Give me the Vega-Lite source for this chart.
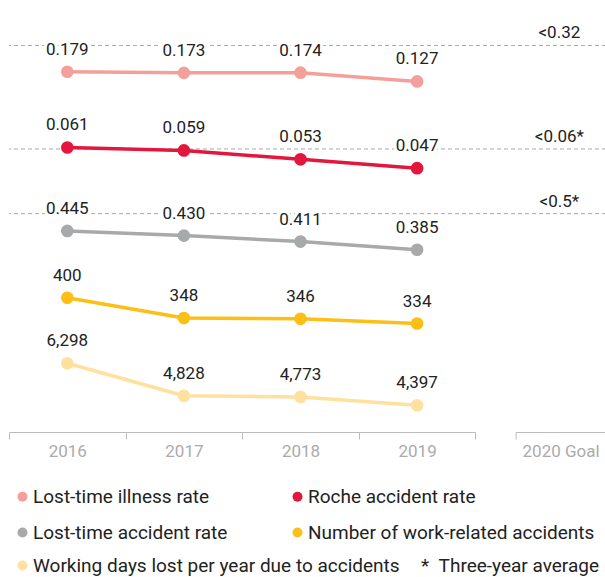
{
  "$schema": "https://vega.github.io/schema/vega-lite/v6.json",
  "background": "white",
  "padding": {"left": 8, "top": 0, "right": 0, "bottom": 0},
  "autosize": {"type": "pad"},
  "bounds": "flush",
  "spacing": 0,
  "config": {"view": {"stroke": null}, "font": "Roboto"},
  "datasets": {
    "kpi": [
      {"series": "Lost-time illness rate", "year": 2016, "value": 0.179},
      {"series": "Lost-time illness rate", "year": 2017, "value": 0.173},
      {"series": "Lost-time illness rate", "year": 2018, "value": 0.174},
      {"series": "Lost-time illness rate", "year": 2019, "value": 0.127},
      {"series": "Roche accident rate", "year": 2016, "value": 0.061},
      {"series": "Roche accident rate", "year": 2017, "value": 0.059},
      {"series": "Roche accident rate", "year": 2018, "value": 0.053},
      {"series": "Roche accident rate", "year": 2019, "value": 0.047},
      {"series": "Lost-time accident rate", "year": 2016, "value": 0.445},
      {"series": "Lost-time accident rate", "year": 2017, "value": 0.430},
      {"series": "Lost-time accident rate", "year": 2018, "value": 0.411},
      {"series": "Lost-time accident rate", "year": 2019, "value": 0.385},
      {"series": "Number of work-related accidents", "year": 2016, "value": 400},
      {"series": "Number of work-related accidents", "year": 2017, "value": 348},
      {"series": "Number of work-related accidents", "year": 2018, "value": 346},
      {"series": "Number of work-related accidents", "year": 2019, "value": 334},
      {"series": "Working days lost per year due to accidents", "year": 2016, "value": 6298},
      {"series": "Working days lost per year due to accidents", "year": 2017, "value": 4828},
      {"series": "Working days lost per year due to accidents", "year": 2018, "value": 4773},
      {"series": "Working days lost per year due to accidents", "year": 2019, "value": 4397}
    ],
    "goals": [
      {"series": "Lost-time illness rate", "goal": 0.32, "label": "<0.32"},
      {"series": "Roche accident rate", "goal": 0.06, "label": "<0.06*"},
      {"series": "Lost-time accident rate", "goal": 0.5, "label": "<0.5*"}
    ]
  },
  "vconcat": [
    {
      "width": 597,
      "height": 431,
      "data": {"name": "kpi"},
      "resolve": {"scale": {"y": "independent"}},
      "layer": [
        {
          "layer": [
            {"data": {"name": "goals"}, "transform": [{"filter": "datum.series === 'Lost-time illness rate'"}],
             "mark": {"type": "rule", "color": "#AAAAAA", "strokeWidth": 1, "strokeDash": [4, 3]},
             "encoding": {"y": {"field": "goal", "type": "quantitative", "scale": {"domain": [-1.7497, 0.5642], "zero": false, "nice": false}, "axis": null}}},
            {"data": {"name": "goals"}, "transform": [{"filter": "datum.series === 'Lost-time illness rate'"}],
             "mark": {"type": "text", "font": "Roboto", "fontSize": 17, "color": "#222222", "dy": -12, "align": "center", "baseline": "middle"},
             "encoding": {"x": {"datum": 2020.22, "type": "quantitative", "scale": {"domain": [2015.5, 2020.62], "zero": false, "nice": false}, "axis": null},
                          "y": {"field": "goal", "type": "quantitative", "scale": {"domain": [-1.7497, 0.5642], "zero": false, "nice": false}, "axis": null},
                          "text": {"field": "label"}}},
            {"transform": [{"filter": "datum.series === 'Lost-time illness rate'"}],
             "mark": {"type": "line", "color": "#F4A09A", "strokeWidth": 3.5},
             "encoding": {"x": {"field": "year", "type": "quantitative", "scale": {"domain": [2015.5, 2020.62], "zero": false, "nice": false}, "axis": null},
                          "y": {"field": "value", "type": "quantitative", "scale": {"domain": [-1.7497, 0.5642], "zero": false, "nice": false}, "axis": null}}},
            {"transform": [{"filter": "datum.series === 'Lost-time illness rate'"}],
             "mark": {"type": "point", "filled": true, "size": 160, "opacity": 1},
             "encoding": {"x": {"field": "year", "type": "quantitative", "scale": {"domain": [2015.5, 2020.62], "zero": false, "nice": false}, "axis": null},
                          "y": {"field": "value", "type": "quantitative", "scale": {"domain": [-1.7497, 0.5642], "zero": false, "nice": false}, "axis": null},
                          "color": {"field": "series", "type": "nominal",
                                    "scale": {"domain": ["Lost-time illness rate", "Lost-time accident rate", "Roche accident rate", "Number of work-related accidents"], "range": ["#F4A09A", "#A7A9AA", "#E3173E", "#FCBF16"]},
                                    "legend": {"title": null, "orient": "none", "legendX": 4, "legendY": 487, "columns": 2, "columnPadding": 60, "rowPadding": 16, "symbolType": "circle", "symbolSize": 100, "symbolStrokeWidth": 0, "labelFont": "Roboto", "labelFontSize": 19, "labelColor": "#222222", "labelOffset": 1, "labelLimit": 500}}}},
            {"transform": [{"filter": "datum.series === 'Lost-time illness rate'"}],
             "mark": {"type": "text", "font": "Roboto", "fontSize": 17, "dy": -22, "baseline": "middle", "stroke": "white", "strokeWidth": 6, "strokeJoin": "round", "fill": "white"},
             "encoding": {"x": {"field": "year", "type": "quantitative", "scale": {"domain": [2015.5, 2020.62], "zero": false, "nice": false}, "axis": null},
                          "y": {"field": "value", "type": "quantitative", "scale": {"domain": [-1.7497, 0.5642], "zero": false, "nice": false}, "axis": null},
                          "text": {"field": "value", "type": "quantitative", "format": ".3f"}}},
            {"transform": [{"filter": "datum.series === 'Lost-time illness rate'"}],
             "mark": {"type": "text", "font": "Roboto", "fontSize": 17, "dy": -22, "baseline": "middle", "color": "#222222"},
             "encoding": {"x": {"field": "year", "type": "quantitative", "scale": {"domain": [2015.5, 2020.62], "zero": false, "nice": false}, "axis": null},
                          "y": {"field": "value", "type": "quantitative", "scale": {"domain": [-1.7497, 0.5642], "zero": false, "nice": false}, "axis": null},
                          "text": {"field": "value", "type": "quantitative", "format": ".3f"}}}
          ]
        },
        {
          "layer": [
            {"data": {"name": "goals"}, "transform": [{"filter": "datum.series === 'Roche accident rate'"}],
             "mark": {"type": "rule", "color": "#AAAAAA", "strokeWidth": 1, "strokeDash": [4, 3]},
             "encoding": {"y": {"field": "goal", "type": "quantitative", "scale": {"domain": [-0.13075, 0.16075], "zero": false, "nice": false}, "axis": null}}},
            {"data": {"name": "goals"}, "transform": [{"filter": "datum.series === 'Roche accident rate'"}],
             "mark": {"type": "text", "font": "Roboto", "fontSize": 17, "color": "#222222", "dy": -12, "align": "center", "baseline": "middle"},
             "encoding": {"x": {"datum": 2020.22, "type": "quantitative", "scale": {"domain": [2015.5, 2020.62], "zero": false, "nice": false}, "axis": null},
                          "y": {"field": "goal", "type": "quantitative", "scale": {"domain": [-0.13075, 0.16075], "zero": false, "nice": false}, "axis": null},
                          "text": {"field": "label"}}},
            {"transform": [{"filter": "datum.series === 'Roche accident rate'"}],
             "mark": {"type": "line", "color": "#E3173E", "strokeWidth": 3.5},
             "encoding": {"x": {"field": "year", "type": "quantitative", "scale": {"domain": [2015.5, 2020.62], "zero": false, "nice": false}, "axis": null},
                          "y": {"field": "value", "type": "quantitative", "scale": {"domain": [-0.13075, 0.16075], "zero": false, "nice": false}, "axis": null}}},
            {"transform": [{"filter": "datum.series === 'Roche accident rate'"}],
             "mark": {"type": "point", "filled": true, "size": 160, "opacity": 1},
             "encoding": {"x": {"field": "year", "type": "quantitative", "scale": {"domain": [2015.5, 2020.62], "zero": false, "nice": false}, "axis": null},
                          "y": {"field": "value", "type": "quantitative", "scale": {"domain": [-0.13075, 0.16075], "zero": false, "nice": false}, "axis": null},
                          "color": {"field": "series", "type": "nominal",
                                    "scale": {"domain": ["Lost-time illness rate", "Lost-time accident rate", "Roche accident rate", "Number of work-related accidents"], "range": ["#F4A09A", "#A7A9AA", "#E3173E", "#FCBF16"]},
                                    "legend": {"title": null, "orient": "none", "legendX": 4, "legendY": 487, "columns": 2, "columnPadding": 60, "rowPadding": 16, "symbolType": "circle", "symbolSize": 100, "symbolStrokeWidth": 0, "labelFont": "Roboto", "labelFontSize": 19, "labelColor": "#222222", "labelOffset": 1, "labelLimit": 500}}}},
            {"transform": [{"filter": "datum.series === 'Roche accident rate'"}],
             "mark": {"type": "text", "font": "Roboto", "fontSize": 17, "dy": -22, "baseline": "middle", "stroke": "white", "strokeWidth": 6, "strokeJoin": "round", "fill": "white"},
             "encoding": {"x": {"field": "year", "type": "quantitative", "scale": {"domain": [2015.5, 2020.62], "zero": false, "nice": false}, "axis": null},
                          "y": {"field": "value", "type": "quantitative", "scale": {"domain": [-0.13075, 0.16075], "zero": false, "nice": false}, "axis": null},
                          "text": {"field": "value", "type": "quantitative", "format": ".3f"}}},
            {"transform": [{"filter": "datum.series === 'Roche accident rate'"}],
             "mark": {"type": "text", "font": "Roboto", "fontSize": 17, "dy": -22, "baseline": "middle", "color": "#222222"},
             "encoding": {"x": {"field": "year", "type": "quantitative", "scale": {"domain": [2015.5, 2020.62], "zero": false, "nice": false}, "axis": null},
                          "y": {"field": "value", "type": "quantitative", "scale": {"domain": [-0.13075, 0.16075], "zero": false, "nice": false}, "axis": null},
                          "text": {"field": "value", "type": "quantitative", "format": ".3f"}}}
          ]
        },
        {
          "layer": [
            {"data": {"name": "goals"}, "transform": [{"filter": "datum.series === 'Lost-time accident rate'"}],
             "mark": {"type": "rule", "color": "#AAAAAA", "strokeWidth": 1, "strokeDash": [4, 3]},
             "encoding": {"y": {"field": "goal", "type": "quantitative", "scale": {"domain": [-0.1921, 1.1802], "zero": false, "nice": false}, "axis": null}}},
            {"data": {"name": "goals"}, "transform": [{"filter": "datum.series === 'Lost-time accident rate'"}],
             "mark": {"type": "text", "font": "Roboto", "fontSize": 17, "color": "#222222", "dy": -12, "align": "center", "baseline": "middle"},
             "encoding": {"x": {"datum": 2020.22, "type": "quantitative", "scale": {"domain": [2015.5, 2020.62], "zero": false, "nice": false}, "axis": null},
                          "y": {"field": "goal", "type": "quantitative", "scale": {"domain": [-0.1921, 1.1802], "zero": false, "nice": false}, "axis": null},
                          "text": {"field": "label"}}},
            {"transform": [{"filter": "datum.series === 'Lost-time accident rate'"}],
             "mark": {"type": "line", "color": "#A7A9AA", "strokeWidth": 3.5},
             "encoding": {"x": {"field": "year", "type": "quantitative", "scale": {"domain": [2015.5, 2020.62], "zero": false, "nice": false}, "axis": null},
                          "y": {"field": "value", "type": "quantitative", "scale": {"domain": [-0.1921, 1.1802], "zero": false, "nice": false}, "axis": null}}},
            {"transform": [{"filter": "datum.series === 'Lost-time accident rate'"}],
             "mark": {"type": "point", "filled": true, "size": 160, "opacity": 1},
             "encoding": {"x": {"field": "year", "type": "quantitative", "scale": {"domain": [2015.5, 2020.62], "zero": false, "nice": false}, "axis": null},
                          "y": {"field": "value", "type": "quantitative", "scale": {"domain": [-0.1921, 1.1802], "zero": false, "nice": false}, "axis": null},
                          "color": {"field": "series", "type": "nominal",
                                    "scale": {"domain": ["Lost-time illness rate", "Lost-time accident rate", "Roche accident rate", "Number of work-related accidents"], "range": ["#F4A09A", "#A7A9AA", "#E3173E", "#FCBF16"]},
                                    "legend": {"title": null, "orient": "none", "legendX": 4, "legendY": 487, "columns": 2, "columnPadding": 60, "rowPadding": 16, "symbolType": "circle", "symbolSize": 100, "symbolStrokeWidth": 0, "labelFont": "Roboto", "labelFontSize": 19, "labelColor": "#222222", "labelOffset": 1, "labelLimit": 500}}}},
            {"transform": [{"filter": "datum.series === 'Lost-time accident rate'"}],
             "mark": {"type": "text", "font": "Roboto", "fontSize": 17, "dy": -22, "baseline": "middle", "stroke": "white", "strokeWidth": 6, "strokeJoin": "round", "fill": "white"},
             "encoding": {"x": {"field": "year", "type": "quantitative", "scale": {"domain": [2015.5, 2020.62], "zero": false, "nice": false}, "axis": null},
                          "y": {"field": "value", "type": "quantitative", "scale": {"domain": [-0.1921, 1.1802], "zero": false, "nice": false}, "axis": null},
                          "text": {"field": "value", "type": "quantitative", "format": ".3f"}}},
            {"transform": [{"filter": "datum.series === 'Lost-time accident rate'"}],
             "mark": {"type": "text", "font": "Roboto", "fontSize": 17, "dy": -22, "baseline": "middle", "color": "#222222"},
             "encoding": {"x": {"field": "year", "type": "quantitative", "scale": {"domain": [2015.5, 2020.62], "zero": false, "nice": false}, "axis": null},
                          "y": {"field": "value", "type": "quantitative", "scale": {"domain": [-0.1921, 1.1802], "zero": false, "nice": false}, "axis": null},
                          "text": {"field": "value", "type": "quantitative", "format": ".3f"}}}
          ]
        },
        {
          "layer": [
            {"transform": [{"filter": "datum.series === 'Number of work-related accidents'"}],
             "mark": {"type": "line", "color": "#FCBF16", "strokeWidth": 3.5},
             "encoding": {"x": {"field": "year", "type": "quantitative", "scale": {"domain": [2015.5, 2020.62], "zero": false, "nice": false}, "axis": null},
                          "y": {"field": "value", "type": "quantitative", "scale": {"domain": [59.09, 1161.41], "zero": false, "nice": false}, "axis": null}}},
            {"transform": [{"filter": "datum.series === 'Number of work-related accidents'"}],
             "mark": {"type": "point", "filled": true, "size": 160, "opacity": 1},
             "encoding": {"x": {"field": "year", "type": "quantitative", "scale": {"domain": [2015.5, 2020.62], "zero": false, "nice": false}, "axis": null},
                          "y": {"field": "value", "type": "quantitative", "scale": {"domain": [59.09, 1161.41], "zero": false, "nice": false}, "axis": null},
                          "color": {"field": "series", "type": "nominal",
                                    "scale": {"domain": ["Lost-time illness rate", "Lost-time accident rate", "Roche accident rate", "Number of work-related accidents"], "range": ["#F4A09A", "#A7A9AA", "#E3173E", "#FCBF16"]},
                                    "legend": {"title": null, "orient": "none", "legendX": 4, "legendY": 487, "columns": 2, "columnPadding": 60, "rowPadding": 16, "symbolType": "circle", "symbolSize": 100, "symbolStrokeWidth": 0, "labelFont": "Roboto", "labelFontSize": 19, "labelColor": "#222222", "labelOffset": 1, "labelLimit": 500}}}},
            {"transform": [{"filter": "datum.series === 'Number of work-related accidents'"}],
             "mark": {"type": "text", "font": "Roboto", "fontSize": 17, "dy": -22, "baseline": "middle", "color": "#222222"},
             "encoding": {"x": {"field": "year", "type": "quantitative", "scale": {"domain": [2015.5, 2020.62], "zero": false, "nice": false}, "axis": null},
                          "y": {"field": "value", "type": "quantitative", "scale": {"domain": [59.09, 1161.41], "zero": false, "nice": false}, "axis": null},
                          "text": {"field": "value", "type": "quantitative", "format": ",d"}}}
          ]
        },
        {
          "layer": [
            {"transform": [{"filter": "datum.series === 'Working days lost per year due to accidents'"}],
             "mark": {"type": "line", "color": "#FFE09E", "strokeWidth": 3.5},
             "encoding": {"x": {"field": "year", "type": "quantitative", "scale": {"domain": [2015.5, 2020.62], "zero": false, "nice": false}, "axis": null},
                          "y": {"field": "value", "type": "quantitative", "scale": {"domain": [3230.1, 22742.3], "zero": false, "nice": false}, "axis": null}}},
            {"transform": [{"filter": "datum.series === 'Working days lost per year due to accidents'"}],
             "mark": {"type": "point", "filled": true, "size": 160, "opacity": 1},
             "encoding": {"x": {"field": "year", "type": "quantitative", "scale": {"domain": [2015.5, 2020.62], "zero": false, "nice": false}, "axis": null},
                          "y": {"field": "value", "type": "quantitative", "scale": {"domain": [3230.1, 22742.3], "zero": false, "nice": false}, "axis": null},
                          "fill": {"field": "series", "type": "nominal",
                                   "scale": {"domain": ["Working days lost per year due to accidents"], "range": ["#FFE09E"]},
                                   "legend": {"title": "*\u00a0\u00a0Three-year average", "titleOrient": "right", "titlePadding": 21, "titleFont": "Roboto", "titleFontSize": 19, "titleFontWeight": "normal", "titleColor": "#222222", "orient": "none", "legendX": 4, "legendY": 556, "symbolType": "circle", "symbolSize": 100, "symbolStrokeWidth": 0, "labelFont": "Roboto", "labelFontSize": 19, "labelColor": "#222222", "labelOffset": 1, "labelLimit": 500}}}},
            {"transform": [{"filter": "datum.series === 'Working days lost per year due to accidents'"}],
             "mark": {"type": "text", "font": "Roboto", "fontSize": 17, "dy": -22, "baseline": "middle", "color": "#222222"},
             "encoding": {"x": {"field": "year", "type": "quantitative", "scale": {"domain": [2015.5, 2020.62], "zero": false, "nice": false}, "axis": null},
                          "y": {"field": "value", "type": "quantitative", "scale": {"domain": [3230.1, 22742.3], "zero": false, "nice": false}, "axis": null},
                          "text": {"field": "value", "type": "quantitative", "format": ",d"}}}
          ]
        }
      ]
    },
    {
      "hconcat": [
        {
          "width": 466.4,
          "height": 1,
          "data": {"name": "kpi"},
          "transform": [{"filter": "datum.series === 'Roche accident rate'"}],
          "mark": {"type": "point", "opacity": 0},
          "encoding": {
            "x": {"field": "year", "type": "ordinal", "scale": {"type": "band", "paddingInner": 0, "paddingOuter": 0},
                  "axis": {"orient": "bottom", "title": null, "tickBand": "extent", "tickSize": 7, "tickColor": "#BBBBBB", "tickWidth": 1, "domainColor": "#BBBBBB", "domainWidth": 1, "labelColor": "#ABABAB", "labelFont": "Roboto", "labelFontSize": 17, "labelPadding": 4, "labelAngle": 0}}
          }
        },
        {
          "width": 90,
          "height": 1,
          "data": {"values": [{"column": "2020 Goal"}]},
          "mark": {"type": "point", "opacity": 0},
          "encoding": {
            "x": {"field": "column", "type": "nominal", "scale": {"type": "band", "paddingInner": 0, "paddingOuter": 0},
                  "axis": {"orient": "bottom", "title": null, "tickBand": "extent", "tickSize": 7, "tickColor": "#BBBBBB", "tickWidth": 1, "domainColor": "#BBBBBB", "domainWidth": 1, "labelColor": "#ABABAB", "labelFont": "Roboto", "labelFontSize": 17, "labelPadding": 4, "labelAngle": 0}}
          }
        }
      ],
      "spacing": 39.6,
      "bounds": "flush"
    }
  ]
}
